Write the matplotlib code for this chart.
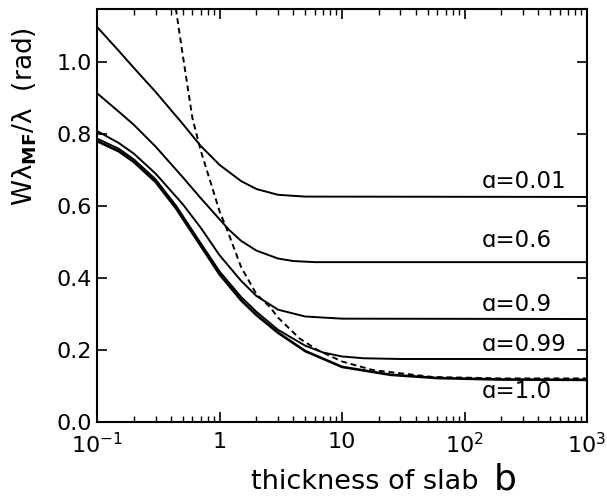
import numpy as np
import matplotlib
matplotlib.use('Agg')
import matplotlib.pyplot as plt
from matplotlib.ticker import LogLocator, NullFormatter, FixedLocator, FixedFormatter

# slab thickness b and W*lambda_MF/lambda for each albedo a
b_01 = [0.1, 0.15, 0.2, 0.3, 0.5, 0.7, 1.0, 1.5, 2.0, 3.0, 5.0, 1000.0]
w_01 = [1.097, 1.031, 0.983, 0.917, 0.828, 0.767, 0.714, 0.669, 0.647, 0.631, 0.626, 0.625]

b_06 = [0.1, 0.15, 0.2, 0.3, 0.5, 0.7, 1.0, 1.2, 1.5, 2.0, 3.0, 4.0, 6.0, 1000.0]
w_06 = [0.913, 0.862, 0.825, 0.765, 0.68, 0.622, 0.563, 0.533, 0.503, 0.476, 0.454, 0.447, 0.444, 0.444]

b_09 = [0.1, 0.15, 0.2, 0.3, 0.5, 0.7, 1.0, 1.5, 2.0, 3.0, 5.0, 10.0, 1000.0]
w_09 = [0.808, 0.775, 0.745, 0.69, 0.605, 0.54, 0.463, 0.392, 0.350, 0.312, 0.293, 0.287, 0.286]

b_099 = [0.1, 0.15, 0.2, 0.3, 0.44, 0.7, 1.0, 1.5, 2.0, 3.0, 5.0, 7.0, 10.0, 15.0, 30.0, 1000.0]
w_099 = [0.787, 0.759, 0.729, 0.674, 0.601, 0.497, 0.418, 0.347, 0.306, 0.256, 0.212, 0.193, 0.182, 0.177, 0.175, 0.175]

b_10 = [0.1, 0.15, 0.2, 0.3, 0.44, 0.7, 1.0, 1.5, 2.0, 3.0, 5.0, 10.0, 25.0, 60.0, 200.0, 1000.0]
w_10 = [0.780, 0.752, 0.722, 0.667, 0.594, 0.49, 0.41, 0.338, 0.297, 0.248, 0.197, 0.153, 0.131, 0.122, 0.118, 0.117]

# dashed reference curve
b_d = [0.42, 0.44, 0.5, 0.6, 0.7, 1.0, 1.17, 1.5, 2.0, 2.6, 3.0, 4.5, 6.3, 10.0, 18.0, 55.0, 200.0, 1000.0]
w_d = [1.19, 1.147, 1.02, 0.844, 0.755, 0.585, 0.528, 0.43, 0.355, 0.318, 0.29, 0.232, 0.20, 0.168, 0.144, 0.125, 0.121, 0.121]

labels = ['\u0251=0.01', '\u0251=0.6', '\u0251=0.9', '\u0251=0.99', '\u0251=1.0']
label_y = [0.668, 0.505, 0.326, 0.215, 0.085]

xticks = [0.1, 1, 10, 100, 1000]
xticklabels = ['10$^{-1}$', '1', '10', '10$^{2}$', '10$^{3}$']
yticks = [0.0, 0.2, 0.4, 0.6, 0.8, 1.0]

plt.rcParams['font.family'] = ['DejaVu Sans']
plt.rcParams['mathtext.default'] = 'regular'

fig = plt.figure(figsize=(6.07, 5.0), dpi=100)
ax = fig.add_axes([0.160, 0.156, 0.807, 0.826])

ax.plot(b_01, w_01, 'k-', lw=1.4)
ax.plot(b_06, w_06, 'k-', lw=1.4)
ax.plot(b_09, w_09, 'k-', lw=1.4)
ax.plot(b_099, w_099, 'k-', lw=1.4)
ax.plot(b_10, w_10, 'k-', lw=1.9)
ax.plot(b_d, w_d, 'k--', lw=1.4, dashes=(3, 2))

for lab, yy in zip(labels, label_y):
    ax.text(139, yy, lab, ha='left', va='center', fontsize=16.5)

ax.set_xscale('log')
ax.set_xlim(0.1, 1000)
ax.set_ylim(0, 1.147)
ax.xaxis.set_major_locator(FixedLocator(xticks))
ax.xaxis.set_major_formatter(FixedFormatter(xticklabels))
ax.xaxis.set_minor_locator(LogLocator(base=10, subs=np.arange(2, 10)))
ax.xaxis.set_minor_formatter(NullFormatter())
ax.set_yticks(yticks)
ax.set_yticklabels(['%.1f' % v for v in yticks])

ax.tick_params(which='both', direction='in', top=True, right=True, labelsize=16)
ax.tick_params(which='major', length=7, width=1.2)
ax.tick_params(which='minor', length=4, width=1.0)
ax.tick_params(axis='x', pad=7)
for s in ax.spines.values():
    s.set_linewidth(1.5)

fig.text(0.040, 0.766, 'W\u03bb$_{\\mathbf{MF}}$/\u03bb  (rad)', rotation=90,
         ha='center', va='center', fontsize=19)
fig.text(0.601, 0.022, 'thickness of slab', ha='center', va='baseline', fontsize=19.5)
fig.text(0.832, 0.022, 'b', ha='center', va='baseline', fontsize=26)

plt.savefig('out.png', dpi=100)
plt.close()
